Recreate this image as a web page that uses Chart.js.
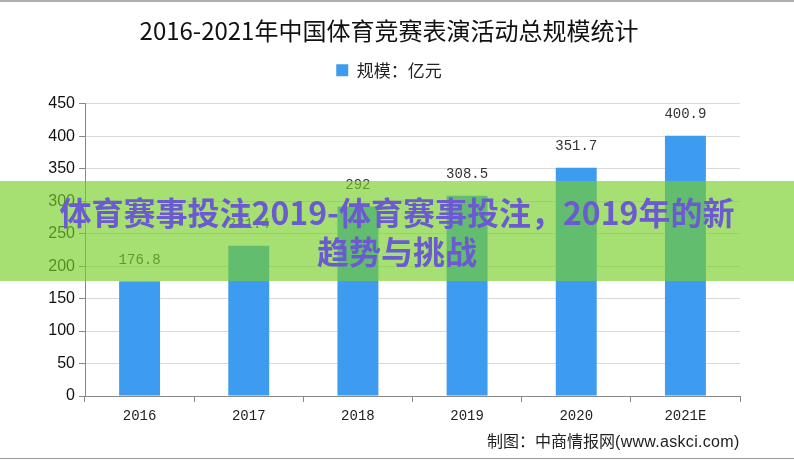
<!DOCTYPE html>
<html>
<head>
<meta charset="utf-8">
<script src="https://cdn.jsdelivr.net/npm/chart.js@4.4.0/dist/chart.umd.min.js"></script>
<style>
  html, body { margin: 0; padding: 0; background: #fff; }
  #wrap { position: relative; width: 794px; height: 462px; overflow: hidden; }
  #topline { position: absolute; left: 0; top: 0; width: 794px; height: 2px; background: #b0b0b0; }
  #botline { position: absolute; left: 0; top: 458px; width: 794px; height: 1px; background: #9a9a9a; }
  #zhutu { position: absolute; left: 0; top: 0; }
  #footer { position: absolute; left: 487px; top: 428px; font-family: "Noto Sans CJK SC"; font-size: 16px; color: #222; white-space: nowrap; }
  #footer span { font-family: "Liberation Sans"; font-size: 16px; letter-spacing: 0.3px; }
  #banner { position: absolute; left: 0; top: 181px; width: 794px; height: 100px;
    background: rgba(118, 208, 40, 0.65); color: #6c5ad0; text-align: center;
    font-family: "Noto Sans CJK SC"; font-weight: 700; font-size: 32px; line-height: 39px;
    padding-top: 11px; box-sizing: border-box; }
</style>
</head>
<body>
<div id="wrap">
  <canvas id="zhutu" width="794" height="462"></canvas>
  <div id="topline"></div>
  <div id="botline"></div>
  <div id="footer">制图：中商情报网<span>(www.askci.com)</span></div>
  <div id="banner">体育赛事投注2019-体育赛事投注，2019年的新<br>趋势与挑战</div>
</div>
<script>
var anios = ['2016', '2017', '2018', '2019', '2020', '2021E'];
var escala = [176.8, 231.4, 292, 308.5, 351.7, 400.9];
var etiquetas = ['176.8', '231.4', '292', '308.5', '351.7', '400.9'];

var ctx = document.getElementById('zhutu').getContext('2d');

// pinta el valor encima de cada barra
var valoresArriba = {
    id: 'valoresArriba',
    afterDatasetsDraw: function(chart) {
        var c = chart.ctx;
        var meta = chart.getDatasetMeta(0);
        c.save();
        c.font = '14px "Liberation Mono"';
        c.fillStyle = '#333';
        c.textAlign = 'center';
        c.textBaseline = 'bottom';
        meta.data.forEach(function(bar, i) {
            c.fillText(etiquetas[i], bar.x, bar.y - 14);
        });
        c.restore();
    }
};

// mas espacio debajo de la leyenda
var espacioLeyenda = {
    id: 'espacioLeyenda',
    beforeLayout: function(chart) {
        var ley = chart.legend;
        if (ley && !ley._parcheado) {
            var fitOriginal = ley.fit;
            ley.fit = function() {
                fitOriginal.call(this);
                this.height += 15;
            };
            ley._parcheado = true;
        }
    }
};

var datos = {
    type: 'bar',
    data: {
        labels: anios,
        datasets: [{
            label: '规模：亿元',
            data: escala,
            backgroundColor: '#3d9bf0',
            borderWidth: 0,
            barPercentage: 0.75,
            categoryPercentage: 0.5
        }]
    },
    options: {
        responsive: false,
        animation: false,
        layout: { padding: { left: 38, right: 54, top: 0, bottom: 36 } },
        plugins: {
            title: {
                display: true,
                text: '2016-2021年中国体育竞赛表演活动总规模统计',
                color: '#111',
                font: { family: '"Noto Sans CJK SC"', size: 24, weight: 'normal' },
                padding: { top: 16, bottom: 7 }
            },
            legend: {
                labels: {
                    color: '#222',
                    font: { family: '"Noto Sans CJK SC"', size: 17 },
                    boxWidth: 12,
                    boxHeight: 12,
                    padding: 10
                }
            },
            tooltip: { enabled: false }
        },
        scales: {
            x: {
                afterFit: function(s) { s.height = 30; },
                grid: { drawOnChartArea: false, drawTicks: true, tickLength: 6, color: '#888', offset: true },
                border: { color: '#888' },
                ticks: { color: '#222', font: { family: '"Liberation Mono"', size: 14 }, padding: 6 }
            },
            y: {
                min: 0,
                max: 450,
                afterFit: function(s) { s.width = 47; },
                grid: { color: '#d9d9d9', tickLength: 6, tickColor: '#888' },
                border: { color: '#888' },
                ticks: { stepSize: 50, color: '#111', font: { family: '"Liberation Sans"', size: 16 }, padding: 4 }
            }
        }
    },
    plugins: [valoresArriba, espacioLeyenda]
};
var miGrafica = new Chart(ctx, datos);
</script>
</body>
</html>
